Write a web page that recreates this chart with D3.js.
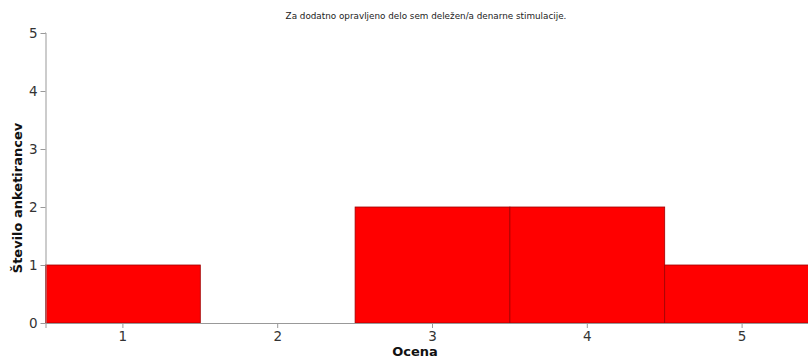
<!DOCTYPE html>
<html><head><meta charset="utf-8">
<script src="https://cdn.jsdelivr.net/npm/d3@7"></script>
<style>body{margin:0;background:#fff;overflow:hidden}svg{display:block}</style>
</head><body>
<script>
const categories = ["1","2","3","4","5"];
const values = [1,0,2,2,1];
const yTicks = [0,1,2,3,4,5];
const title = "Za dodatno opravljeno delo sem deležen/a denarne stimulacije.";
const xTitle = "Ocena";
const yTitle = "Število anketirancev";

const W = 808, H = 358;
const m = {left:45.5, top:33, bottom:35};
const plotW = 774, plotH = 290;
const svg = d3.select("body").append("svg").attr("width",W).attr("height",H)
  .style("font-family","'DejaVu Sans', Verdana, sans-serif");

const x = d3.scaleBand().domain(categories).range([m.left, m.left+plotW]).padding(0);
const y = d3.scaleLinear().domain([0,5]).range([m.top+plotH, m.top]);

svg.append("text").attr("x",426).attr("y",19).attr("text-anchor","middle")
  .attr("font-size",8.8).attr("fill","#222").text(title);

svg.selectAll("rect.bar").data(values).join("rect").attr("class","bar")
  .attr("x",(d,i)=>x(categories[i])).attr("width",x.bandwidth())
  .attr("y",d=>y(d)).attr("height",d=>y(0)-y(d))
  .attr("fill","#ff0000").attr("stroke","#a00000").attr("stroke-width",0.8);

const yAxis = svg.append("g").attr("transform",`translate(${m.left},0)`)
  .call(d3.axisLeft(y).tickValues(yTicks).tickFormat(d3.format("d")).tickSize(5).tickPadding(3));
const xAxis = svg.append("g").attr("transform",`translate(0,${y(0)})`)
  .call(d3.axisBottom(x).tickSize(5).tickPadding(3));
[yAxis,xAxis].forEach(g=>{
  g.selectAll(".domain").attr("stroke","#999");
  g.selectAll(".tick line").attr("stroke","#999");
  g.selectAll(".tick text").attr("font-size",13.5).attr("fill","#333")
    .style("font-family","'DejaVu Sans', Verdana, sans-serif");
});
yAxis.select(".domain").attr("d",`M-0.5,${m.top}H0.5V${y(0)}`);

svg.append("text").attr("x",415).attr("y",356).attr("text-anchor","middle")
  .attr("font-size",13).attr("font-weight","bold").attr("fill","#111").text(xTitle);
svg.append("text").attr("transform",`translate(22,${m.top+plotH/2+20}) rotate(-90)`)
  .attr("text-anchor","middle").attr("font-size",13).attr("font-weight","bold").attr("fill","#111").text(yTitle);
</script>
</body></html>
